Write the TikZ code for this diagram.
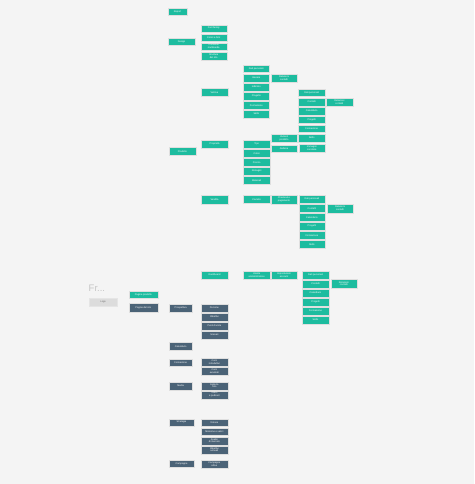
\documentclass[tikz,border=0pt]{standalone}
\usepackage{fontspec}
\setmainfont{Liberation Sans}
\definecolor{bg}{HTML}{F4F4F4}
\definecolor{teal1}{HTML}{1DBC9F}
\definecolor{dark1}{HTML}{4B6377}
\definecolor{logobg}{HTML}{DCDCDC}
\begin{document}
\begin{tikzpicture}[x=1pt,y=-1pt,
  boxbase/.style={draw=white!75!gray, line width=0.35pt, inner sep=0pt, outer sep=0pt,
    align=center, text=white, font=\fontsize{2.4}{2.8}\selectfont},
  tealbox/.style={boxbase, fill=teal1},
  darkbox/.style={boxbase, fill=dark1},
  logobox/.style={boxbase, fill=logobg, draw=white!80!gray, text=black!60}]
\fill[bg] (0,0) rectangle (474,484);
\useasboundingbox (0,0) rectangle (474,484);
\newcommand\bx[7]{\node[#6, anchor=north west, minimum width={#4pt-#2pt}, minimum height={#5pt-#3pt}] (#1) at (#2,#3) {#7};}
% title and logo
\node[anchor=north west, inner sep=0pt, text=gray!45, font=\fontsize{9.5}{10}\selectfont] (title) at (88.5,284.5) {Fr...};
\bx{logo}{89}{298.3}{117.3}{306}{logobox}{Logo}
% root level
\bx{pprod}{129}{291}{157.7}{298}{tealbox}{Pagine prodotto}
\bx{psito}{129}{303.3}{157.7}{311.7}{darkbox}{Pagine del sito}
% teal branch
\bx{report}{168.3}{8.3}{186.7}{15}{tealbox}{Report}
\bx{design}{168}{38}{195}{45}{tealbox}{Design}
\bx{d1}{200.7}{25}{226.7}{31.7}{tealbox}{Font family}
\bx{d2}{200.7}{34.3}{226.7}{41}{tealbox}{Colori e font}
\bx{d3}{200.7}{42.7}{226.7}{50}{tealbox}{Contenuti\\multimedia}
\bx{d4}{200.7}{51.7}{226.7}{60}{tealbox}{Struttura\\del sito}
% vetrina
\bx{vetr}{201}{88.3}{227.7}{96}{tealbox}{Vetrina}
\bx{v1}{243.3}{65}{269.3}{72.3}{tealbox}{Dati personali}
\bx{v2}{243.3}{74.3}{269.3}{81.7}{tealbox}{Genere}
\bx{v3}{243.3}{83.3}{269.3}{90.7}{tealbox}{Indirizzo}
\bx{v4}{243.3}{92.3}{269.3}{100}{tealbox}{Progetto}
\bx{v5}{243.3}{101.3}{269.3}{109}{tealbox}{Formazione}
\bx{v6}{243.3}{110}{269.3}{117.7}{tealbox}{Skills}
\bx{v2a}{271}{74}{297}{82.3}{tealbox}{Relazioni\\contatti}
\bx{w1}{298.3}{89}{325}{96}{tealbox}{Dati personali}
\bx{w2}{298.3}{98}{325}{105.7}{tealbox}{Contatti}
\bx{w3}{298.3}{107}{325}{114.7}{tealbox}{Calendario}
\bx{w4}{298.3}{116}{325}{123.3}{tealbox}{Progetti}
\bx{w5}{298.3}{125}{325}{132}{tealbox}{Formazione}
\bx{w6}{298.3}{133.7}{325}{141.7}{tealbox}{Skills}
\bx{w2a}{326}{97.7}{352.7}{106}{tealbox}{Relazioni\\contatti}
% prodotto
\bx{prod}{169}{147.3}{195.7}{155}{tealbox}{Prodotto}
\bx{prop}{201.3}{140.3}{227.7}{148.3}{tealbox}{Proprietà}
\bx{p1}{243.3}{140.3}{270}{148.3}{tealbox}{Tipo}
\bx{p2}{243.3}{149.3}{270}{157.3}{tealbox}{Colori}
\bx{p3}{243.3}{158.3}{270}{166.3}{tealbox}{Prezzo}
\bx{p4}{243.3}{167.3}{270}{175.3}{tealbox}{Immagini}
\bx{p5}{243.3}{176.3}{270}{184.3}{tealbox}{Materiali}
\bx{p1a}{271}{133.7}{297}{142.3}{tealbox}{Varianti\\prodotto}
\bx{p1b}{271}{144.7}{297}{152.3}{tealbox}{Galleria}
\bx{p1c}{298.7}{144.3}{325}{152.3}{tealbox}{Immagini\\correlate}
% vendita
\bx{vend}{201.3}{195.3}{227.7}{203.7}{tealbox}{Vendita}
\bx{carr}{243.3}{195.3}{270}{203.3}{tealbox}{Carrello}
\bx{chk}{271}{195.3}{297}{203.7}{tealbox}{Checkout e\\pagamento}
\bx{c1}{298.7}{195.3}{325}{203.3}{tealbox}{Dati personali}
\bx{c2}{298.7}{204.3}{325}{212.3}{tealbox}{Contatti}
\bx{c3}{298.7}{213.3}{325}{221.3}{tealbox}{Calendario}
\bx{c4}{298.7}{222.3}{325}{230.3}{tealbox}{Progetti}
\bx{c5}{298.7}{231.3}{325}{239.3}{tealbox}{Formazione}
\bx{c6}{298.7}{240.3}{325}{248.3}{tealbox}{Skills}
\bx{c2a}{326.7}{204}{353.3}{212.7}{tealbox}{Relazioni\\contatti}
% dashboard
\bx{dash}{201.3}{270.7}{227.7}{278.7}{tealbox}{Dashboard}
\bx{adm}{243.3}{270.7}{270}{279}{tealbox}{Utente\\amministratore}
\bx{imp}{271}{270.7}{297}{279}{tealbox}{Impostazioni\\account}
\bx{e1}{302.3}{270.7}{328.7}{278.7}{tealbox}{Dati personali}
\bx{e2}{302.3}{279.7}{328.7}{287.7}{tealbox}{Contatti}
\bx{e3}{302.3}{288.7}{328.7}{296.7}{tealbox}{Calendario}
\bx{e4}{302.3}{297.7}{328.7}{305.7}{tealbox}{Progetti}
\bx{e5}{302.3}{306.7}{328.7}{314.7}{tealbox}{Formazione}
\bx{e6}{302.3}{315.7}{328.7}{323.7}{tealbox}{Skills}
\bx{e2a}{330.7}{279.3}{357}{288}{tealbox}{Relazioni\\contatti}
% dark branch
\bx{prosp}{169}{304}{192.3}{311.7}{darkbox}{Prospettiva}
\bx{q1}{201}{304}{227.7}{311.7}{darkbox}{Persone}
\bx{q2}{201}{313}{227.7}{320.7}{darkbox}{Obiettivi}
\bx{q3}{201}{322}{227.7}{329.7}{darkbox}{Punti di vista}
\bx{q4}{201}{331}{227.7}{338.7}{darkbox}{Scenari}
\bx{cal}{169}{342.3}{192.3}{350}{darkbox}{Calendario}
\bx{form}{169}{358.7}{192.3}{366.3}{darkbox}{Formazione}
\bx{f1}{201}{357.7}{227.7}{366}{darkbox}{Corsi\\introduttivi}
\bx{f2}{201}{367}{227.7}{375}{darkbox}{Corsi\\avanzati}
\bx{media}{169}{381.7}{192.3}{389.7}{darkbox}{Media}
\bx{m1}{201}{381.7}{227.7}{389.7}{darkbox}{Galleria\\foto}
\bx{m2}{201}{390.7}{227.7}{398.7}{darkbox}{Video\\e podcast}
\bx{strat}{169}{418.7}{194}{426}{darkbox}{Strategia}
\bx{s1}{201}{418.7}{227.7}{426}{darkbox}{Visione}
\bx{s2}{201}{427.7}{227.7}{435}{darkbox}{Missione e valori}
\bx{s3}{201}{436.7}{227.7}{444.7}{darkbox}{Analisi\\di mercato}
\bx{s4}{201}{445.7}{227.7}{453.7}{darkbox}{Obiettivi\\annuali}
\bx{camp}{169}{460}{194}{467.3}{darkbox}{Campagne}
\bx{k1}{201}{460}{227.7}{468}{darkbox}{Campagne\\attive}
\end{tikzpicture}
\end{document}
